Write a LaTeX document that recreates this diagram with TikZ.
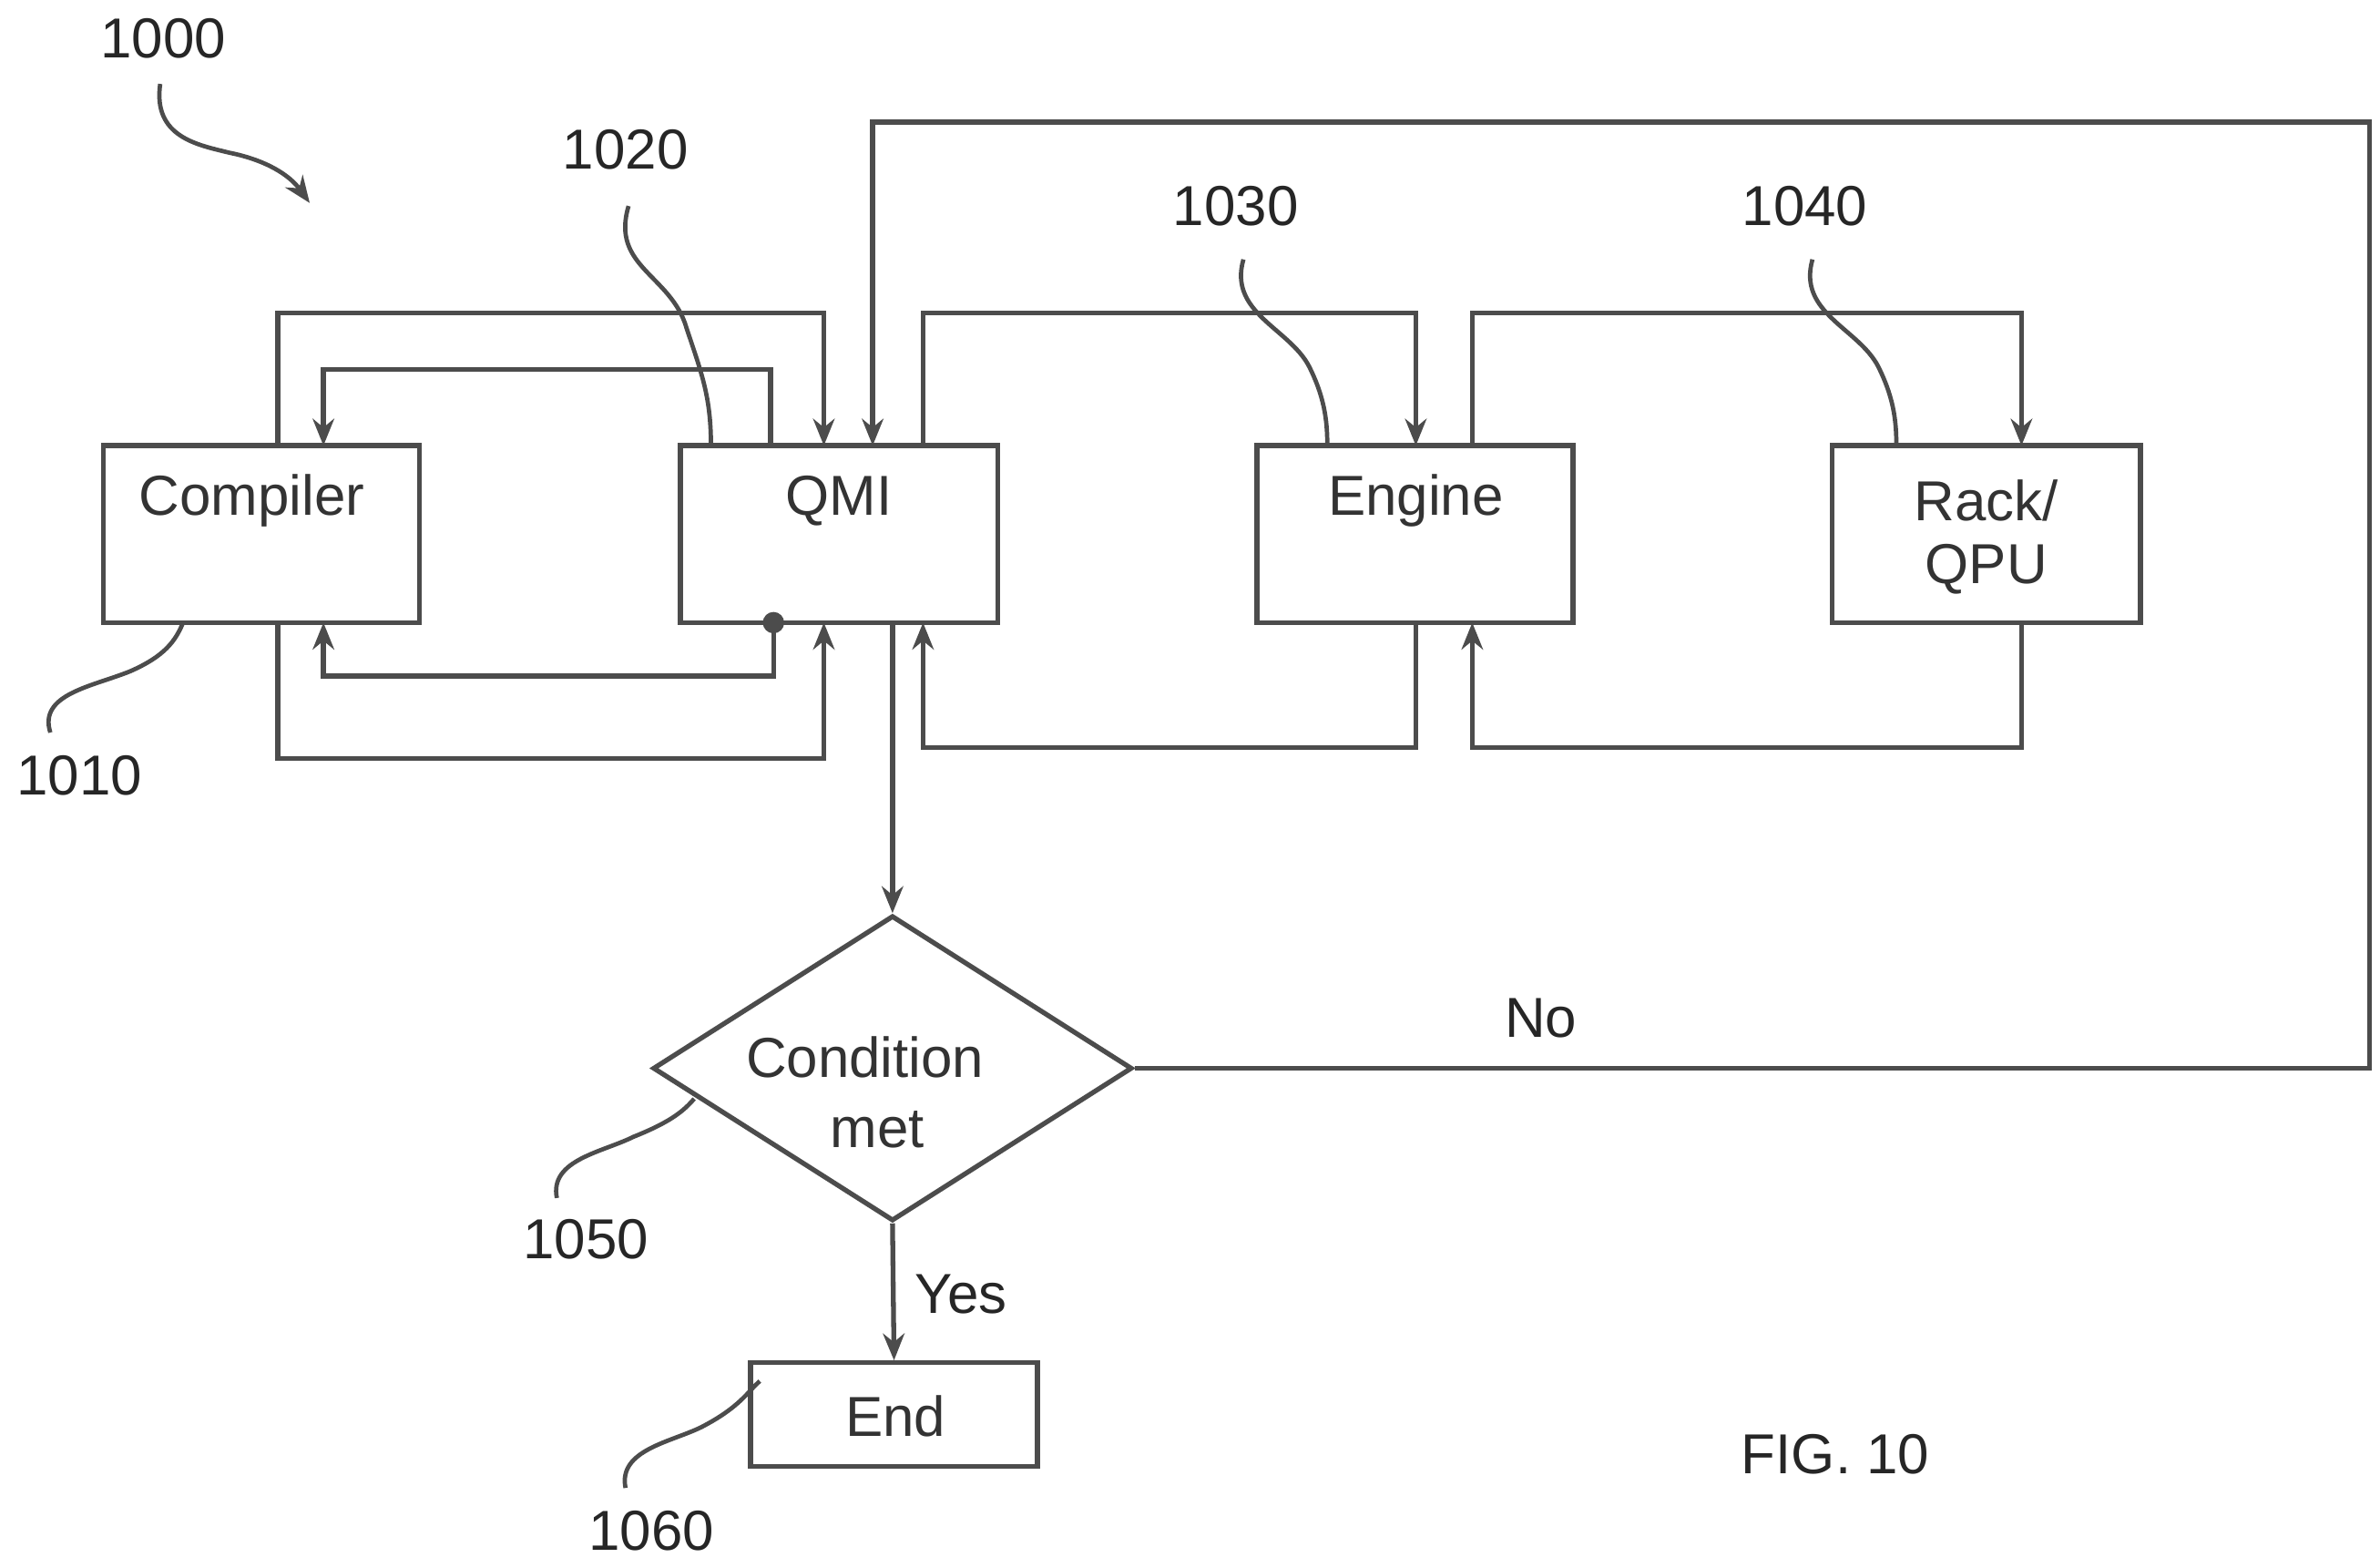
\documentclass[tikz,border=0pt]{standalone}
\usepackage{fontspec}
\setmainfont{Liberation Sans}
\usetikzlibrary{arrows.meta,shapes.geometric}
\begin{document}
\begin{tikzpicture}[x=0.01cm,y=-0.01cm,
  ln/.style={draw=black!70,line width=0.9pt},
  ar/.style={ln,-{Stealth[length=5pt,width=4pt]}},
  box/.style={ln,draw,rectangle,inner sep=0pt},
  txt/.style={font=\fontsize{10.5pt}{12pt}\selectfont,text=black!80},
  lab/.style={font=\fontsize{10.5pt}{12pt}\selectfont,text=black!85},
  sq/.style={ln,line width=0.8pt}]
\useasboundingbox (0,0) rectangle (1560,1027);
% boxes
\node[box,minimum width=2.07cm,minimum height=1.16cm] (comp) at (171.5,350) {};
\node[txt] at (165,328) {Compiler};
\node[box,minimum width=2.08cm,minimum height=1.16cm] (qmi) at (550,350) {};
\node[txt] at (550,328) {QMI};
\node[box,minimum width=2.07cm,minimum height=1.16cm] (eng) at (927.5,350) {};
\node[txt] at (928,328) {Engine};
\node[box,minimum width=2.02cm,minimum height=1.16cm] (rack) at (1302,350) {};
\node[txt] at (1302,328) {Rack/};
\node[txt] at (1302,373) {QPU};
\node[ln,draw,diamond,aspect=1.57,minimum width=3.14cm,minimum height=2.0cm,inner sep=0pt] (dia) at (585,700) {};
\node[txt] at (567,693) {Condition};
\node[txt] at (575,740) {met};
\node[box,minimum width=1.88cm,minimum height=0.68cm] (end) at (586,927) {};
\node[txt] at (587,928) {End};
% connectors
\coordinate (c1) at (182,292); \coordinate (q1) at (540,292);
\draw[ar] (c1) -- (182,205) -- (540,205) -- (q1);
\coordinate (q2) at (505,292); \coordinate (c2) at (212,292);
\draw[ar] (q2) -- (505,242) -- (212,242) -- (c2);
\coordinate (c3) at (182,408); \coordinate (q3) at (540,408);
\draw[ar] (c3) -- (182,497) -- (540,497) -- (q3);
\coordinate (q4) at (507,408); \coordinate (c4) at (212,408);
\draw[ar] (q4) -- (507,443) -- (212,443) -- (c4);
\fill[black!70] (q4) circle (7);
\coordinate (q5) at (605,292); \coordinate (e1) at (928,292);
\draw[ar] (q5) -- (605,205) -- (928,205) -- (e1);
\coordinate (e2) at (928,408); \coordinate (q6) at (605,408);
\draw[ar] (e2) -- (928,490) -- (605,490) -- (q6);
\coordinate (e3) at (965,292); \coordinate (r1) at (1325,292);
\draw[ar] (e3) -- (965,205) -- (1325,205) -- (r1);
\coordinate (r2) at (1325,408); \coordinate (e4) at (965,408);
\draw[ar] (r2) -- (1325,490) -- (965,490) -- (e4);
\coordinate (q7) at (585,408);
\draw[ar] (q7) -- (dia.north);
\coordinate (q8) at (572,292);
\draw[ar] (dia.east) -- (1553,700) -- (1553,80) -- (572,80) -- (q8);
\draw[ar] (dia.south) -- (end.north);
\node[lab] at (630,848) {Yes};
\node[lab] at (1010,667) {No};
% labels
\node[lab] at (107,25) {1000};
\draw[sq,-{Stealth[length=5pt,width=4pt]}] (105,55) .. controls (100,90) and (130,95) .. (150,100) .. controls (175,105) and (190,115) .. (203,133);
\node[lab] at (410,98) {1020};
\draw[sq] (412,135) .. controls (400,175) and (440,180) .. (450,215) .. controls (460,245) and (466,260) .. (466,292);
\node[lab] at (810,135) {1030};
\draw[sq] (815,170) .. controls (805,205) and (845,215) .. (858,240) .. controls (868,260) and (870,275) .. (870,292);
\node[lab] at (1183,135) {1040};
\draw[sq] (1188,170) .. controls (1178,205) and (1218,215) .. (1231,240) .. controls (1241,260) and (1243,275) .. (1243,292);
\node[lab] at (52,508) {1010};
\draw[sq] (33,480) .. controls (25,455) and (60,450) .. (85,440) .. controls (108,430) and (115,420) .. (120,408);
\node[lab] at (384,812) {1050};
\draw[sq] (365,785) .. controls (360,760) and (395,755) .. (415,745) .. controls (440,735) and (448,728) .. (455,720);
\node[lab] at (427,1003) {1060};
\draw[sq] (410,975) .. controls (405,950) and (440,945) .. (460,935) .. controls (485,922) and (490,912) .. (498,905);
\node[lab] at (1203,953) {FIG. 10};
\end{tikzpicture}
\end{document}
